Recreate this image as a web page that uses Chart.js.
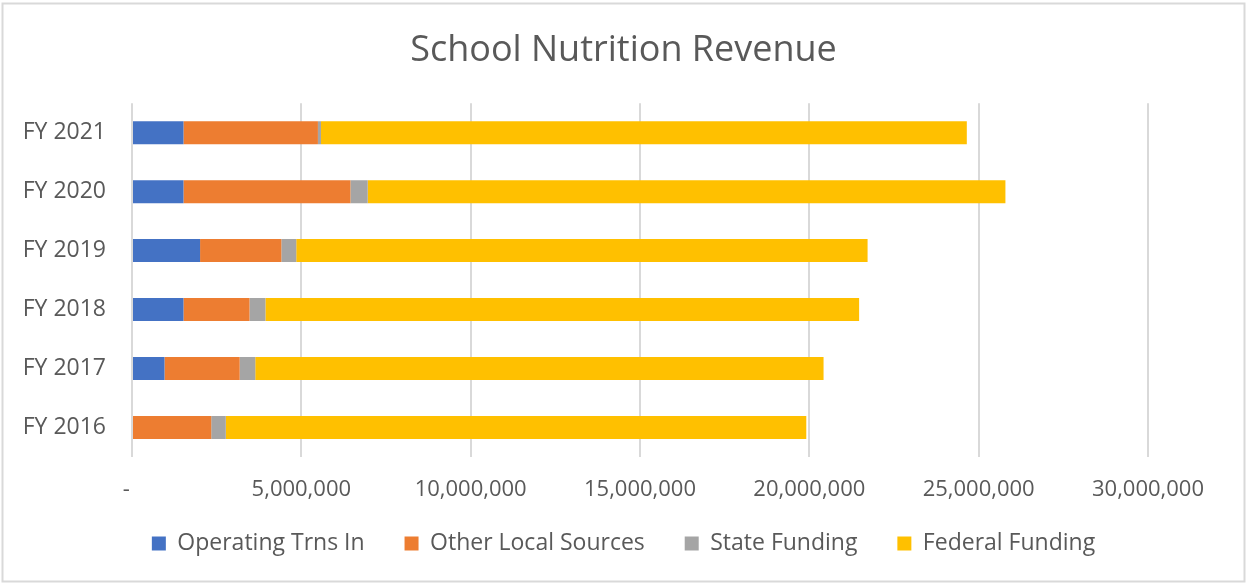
<!DOCTYPE html>
<html>
<head>
<meta charset="utf-8">
<title>School Nutrition Revenue</title>
<script src="https://cdn.jsdelivr.net/npm/chart.js@4.4.0/dist/chart.umd.min.js"></script>
<style>
  body { margin: 0; background: #fff; }
  #box_grafico { width: 1247px; height: 583px; }
</style>
</head>
<body>
<div id="box_grafico"><canvas id="chart_receita"></canvas></div>
<script>
// years, top to bottom like in the Excel chart
var anos = ['FY 2021', 'FY 2020', 'FY 2019', 'FY 2018', 'FY 2017', 'FY 2016'];

// revenue per source
var operating_trns = [1520000, 1520000, 2010000, 1520000, 960000, 0];
var other_local = [3970000, 4930000, 2400000, 1950000, 2220000, 2340000];
var state_funding = [90000, 510000, 440000, 470000, 460000, 430000];
var federal_funding = [19070000, 18830000, 16870000, 17530000, 16780000, 17140000];

// x axis ticks
var eixo_min = 0;
var eixo_max = 30000000;
var eixo_passo = 5000000;

var cor_texto = '#595959';
var fonte = "'Open Sans', sans-serif";

// light frame around the whole chart (Excel chart area border)
const moldura = {
  id: 'moldura',
  beforeDraw(chart) {
    const ctx = chart.ctx;
    ctx.save();
    ctx.fillStyle = '#ffffff';
    ctx.fillRect(0, 0, chart.width, chart.height);
    ctx.strokeStyle = '#d9d9d9';
    ctx.lineWidth = 2;
    ctx.strokeRect(2.5, 3.5, chart.width - 5, chart.height - 5);
    ctx.restore();
  }
};

const receita = document.getElementById('chart_receita');

new Chart(receita, {
  type: 'bar',
  data: {
    labels: anos,
    datasets: [
      { label: 'Operating Trns In', data: operating_trns, backgroundColor: '#4472C4' },
      { label: 'Other Local Sources', data: other_local, backgroundColor: '#ED7D31' },
      { label: 'State Funding', data: state_funding, backgroundColor: '#A5A5A5' },
      { label: 'Federal Funding', data: federal_funding, backgroundColor: '#FFC000' }
    ]
  },
  options: {
    indexAxis: 'y',
    responsive: true,
    maintainAspectRatio: false,
    animation: false,
    datasets: {
      bar: { categoryPercentage: 1, barPercentage: 0.39, borderWidth: 0 }
    },
    layout: {
      padding: { left: 0, right: 0, top: 0, bottom: 18 }
    },
    scales: {
      x: {
        stacked: true,
        min: eixo_min,
        max: eixo_max,
        border: { display: false },
        grid: { color: '#d9d9d9', lineWidth: 2, drawTicks: false },
        ticks: {
          stepSize: eixo_passo,
          padding: 20,
          color: cor_texto,
          font: { family: fonte, size: 22 },
          maxRotation: 0,
          callback: function(valor) {
            if (valor == 0) return '-  ';
            return valor.toLocaleString('en-US');
          }
        },
        afterFit: function(escala) { escala.height = 53; }
      },
      y: {
        stacked: true,
        border: { display: false },
        grid: { display: false, drawTicks: false },
        ticks: {
          padding: 26,
          color: cor_texto,
          font: { family: fonte, size: 23 }
        },
        afterFit: function(escala) { escala.width = 132; }
      },
      // empty axis on the right, only to keep the right margin
      // so title and legend stay centered on the whole canvas
      margem_direita: {
        type: 'category',
        position: 'right',
        border: { display: false },
        grid: { display: false, drawTicks: false },
        ticks: { display: false },
        afterFit: function(escala) { escala.width = 99; }
      }
    },
    plugins: {
      title: {
        display: true,
        text: 'School Nutrition Revenue',
        color: cor_texto,
        font: { family: fonte, size: 36, weight: 'normal' },
        padding: { top: 29, bottom: 31 }
      },
      legend: {
        position: 'bottom',
        labels: {
          color: cor_texto,
          font: { family: fonte, size: 23 },
          boxWidth: 14,
          boxHeight: 14,
          padding: 22,
          // some trailing spaces to get the wider gap between items
          generateLabels: function(chart) {
            var itens = Chart.defaults.plugins.legend.labels.generateLabels(chart);
            itens.forEach(function(item, i) {
              if (i < itens.length - 1) item.text = item.text + '   ';
            });
            return itens;
          }
        }
      },
      tooltip: { enabled: false }
    }
  },
  plugins: [moldura]
});
</script>
</body>
</html>
